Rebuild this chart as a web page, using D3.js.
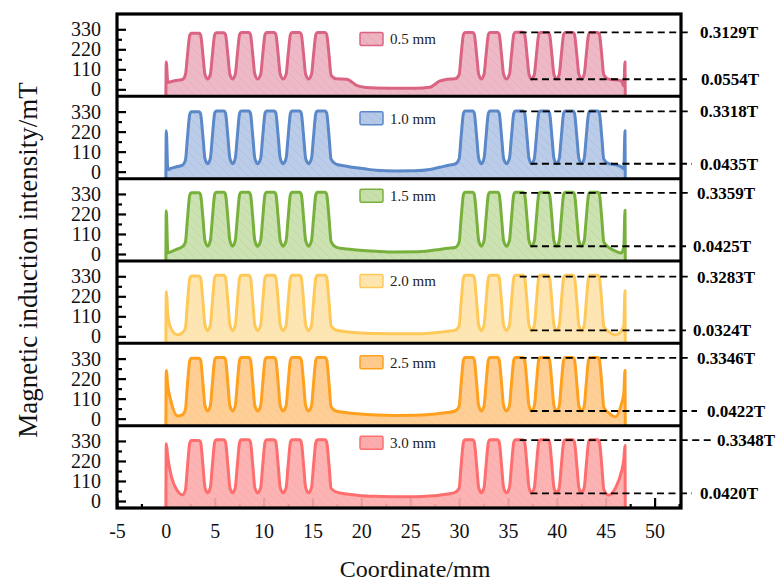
<!DOCTYPE html>
<html>
<head>
<meta charset="utf-8">
<script src="https://cdn.jsdelivr.net/npm/d3@7"></script>
<style>
  body { margin: 0; background: #fff; }
  svg text { font-family: "Liberation Serif", "Times New Roman", serif; }
</style>
</head>
<body>
<div id="chart"></div>
<script>
// coordinate grid (mm), shared by all six curves
var coords = [0.04, 0.2, 0.5, 1.2, 1.7,
  2.0, 2.2, 2.45, 2.6, 3.4, 3.55, 3.8, 4.0, 4.28,
  4.55, 4.75, 5.0, 5.15, 5.95, 6.1, 6.35, 6.55, 6.83,
  7.1, 7.3, 7.55, 7.7, 8.5, 8.65, 8.9, 9.1, 9.4,
  9.7, 9.9, 10.15, 10.3, 11.1, 11.25, 11.5, 11.7, 12.0,
  12.3, 12.5, 12.75, 12.9, 13.7, 13.85, 14.1, 14.3, 14.6,
  14.9, 15.1, 15.35, 15.5, 16.3, 16.45, 16.7, 16.9,
  17.4, 18.5, 19.5, 20.5, 21.5, 23.5, 25.5, 27, 28, 28.8, 29.6,
  30.0, 30.2, 30.45, 30.6, 31.4, 31.55, 31.8, 32.0, 32.28,
  32.55, 32.75, 33.0, 33.15, 33.95, 34.1, 34.35, 34.55, 34.85,
  35.15, 35.35, 35.6, 35.75, 36.55, 36.7, 36.95, 37.15, 37.43,
  37.7, 37.9, 38.15, 38.3, 39.1, 39.25, 39.5, 39.7, 39.98,
  40.25, 40.45, 40.7, 40.85, 41.65, 41.8, 42.05, 42.25, 42.53,
  42.8, 43.0, 43.25, 43.4, 44.2, 44.35, 44.6, 44.8,
  45.3, 46.0, 46.6, 46.85, 46.97];
var coordRange = [0, 47];

// magnetic induction (mT) for each gap
var b05 = [150, 38, 42, 50, 54,
  80, 183, 298, 308, 308, 300, 184, 82, 57,
  83, 185, 301, 311, 311, 301, 185, 83, 57,
  83, 185, 302, 312, 312, 302, 185, 83, 57,
  83, 185, 302, 312, 312, 302, 185, 83, 57,
  83, 185, 303, 313, 313, 303, 185, 83, 57,
  83, 185, 303, 313, 313, 303, 185, 78,
  58, 56, 22, 10, 7, 6, 6, 12, 45, 56, 58,
  80, 185, 303, 313, 313, 303, 185, 83, 57,
  83, 185, 303, 313, 313, 303, 185, 83, 57,
  83, 185, 304, 314, 314, 304, 185, 83, 57,
  83, 185, 303, 313, 313, 303, 185, 83, 57,
  83, 185, 303, 313, 313, 303, 185, 83, 57,
  83, 185, 302, 312, 312, 302, 185, 80,
  56, 52, 46, 18, 150];

var b10 = [225, 10, 18, 28, 36,
  62, 182, 317, 329, 329, 318, 187, 72, 44,
  73, 189, 322, 334, 334, 322, 189, 73, 44,
  73, 189, 322, 334, 334, 322, 189, 73, 44,
  73, 189, 322, 334, 334, 322, 189, 73, 44,
  73, 189, 322, 334, 334, 322, 189, 73, 44,
  73, 189, 322, 334, 334, 322, 189, 68,
  42, 30, 21, 14, 8, 4, 5, 12, 24, 34, 42,
  70, 189, 322, 334, 334, 322, 189, 73, 44,
  73, 189, 322, 334, 334, 322, 189, 73, 44,
  73, 189, 322, 334, 334, 322, 189, 73, 44,
  73, 189, 322, 334, 334, 322, 189, 73, 44,
  73, 189, 322, 334, 334, 322, 189, 73, 44,
  73, 189, 321, 333, 333, 321, 188, 68,
  44, 38, 26, 15, 225];

var b15 = [238, 6, 12, 28, 40,
  65, 188, 325, 337, 337, 326, 191, 73, 43,
  73, 192, 328, 340, 340, 328, 192, 73, 43,
  73, 192, 328, 340, 340, 328, 192, 73, 43,
  73, 192, 328, 340, 340, 328, 192, 73, 43,
  73, 192, 328, 340, 340, 328, 192, 73, 43,
  73, 192, 328, 340, 340, 328, 192, 68,
  38, 27, 22, 18, 15, 11, 12, 18, 25, 31, 36,
  65, 192, 328, 340, 340, 328, 192, 73, 43,
  73, 192, 328, 340, 340, 328, 192, 73, 43,
  73, 192, 328, 340, 340, 328, 192, 73, 43,
  73, 192, 328, 340, 340, 328, 192, 73, 43,
  73, 192, 328, 340, 340, 328, 192, 73, 43,
  73, 192, 328, 340, 340, 328, 192, 66,
  36, 16, 6, 40, 240];

var b20 = [245, 120, 45, 8, 20,
  45, 178, 319, 331, 331, 322, 183, 62, 32,
  62, 184, 323, 335, 335, 323, 184, 62, 32,
  62, 184, 323, 335, 335, 323, 184, 62, 32,
  62, 184, 323, 335, 335, 323, 184, 62, 32,
  62, 184, 323, 335, 335, 323, 184, 62, 32,
  62, 184, 323, 335, 335, 323, 184, 58,
  35, 25, 20, 17, 15, 14, 14, 17, 22, 28, 34,
  58, 184, 323, 335, 335, 323, 184, 62, 32,
  62, 184, 323, 335, 335, 323, 184, 62, 32,
  62, 184, 323, 335, 335, 323, 184, 62, 32,
  62, 184, 323, 335, 335, 323, 184, 62, 32,
  62, 184, 323, 335, 335, 323, 184, 62, 32,
  62, 184, 323, 335, 335, 323, 184, 55,
  26, 8, 30, 60, 250];

var b25 = [265, 180, 100, 14, 22,
  50, 183, 320, 332, 332, 323, 188, 71, 42,
  71, 189, 324, 336, 336, 324, 189, 71, 42,
  71, 189, 324, 336, 336, 324, 189, 71, 42,
  71, 189, 324, 336, 336, 324, 189, 71, 42,
  71, 189, 324, 336, 336, 324, 189, 71, 42,
  71, 189, 324, 336, 336, 324, 189, 66,
  42, 33, 27, 23, 20, 18, 19, 23, 28, 34, 42,
  68, 189, 324, 336, 336, 324, 189, 71, 42,
  71, 189, 324, 336, 336, 324, 189, 71, 42,
  71, 189, 324, 336, 336, 324, 189, 71, 42,
  71, 189, 324, 336, 336, 324, 189, 71, 42,
  71, 189, 324, 336, 336, 324, 189, 71, 42,
  71, 189, 324, 336, 336, 324, 189, 62,
  32, 10, 80, 140, 265];

var b30 = [315, 240, 150, 55, 34,
  60, 184, 320, 332, 332, 323, 190, 74, 45,
  74, 191, 324, 336, 336, 324, 191, 74, 45,
  74, 191, 324, 336, 336, 324, 191, 74, 45,
  74, 191, 324, 336, 336, 324, 191, 74, 45,
  74, 191, 324, 336, 336, 324, 191, 74, 45,
  74, 191, 324, 336, 336, 324, 191, 70,
  50, 38, 32, 28, 26, 24, 24, 27, 32, 38, 48,
  70, 191, 324, 336, 336, 324, 191, 74, 45,
  74, 191, 324, 336, 336, 324, 191, 74, 45,
  74, 191, 324, 336, 336, 324, 191, 74, 45,
  74, 191, 324, 336, 336, 324, 191, 74, 45,
  74, 191, 324, 336, 336, 324, 191, 74, 45,
  74, 191, 324, 336, 336, 324, 191, 64,
  32, 72, 160, 230, 305];

var gapLabels = ["0.5 mm", "1.0 mm", "1.5 mm", "2.0 mm", "2.5 mm", "3.0 mm"];
var peakT = [0.3129, 0.3318, 0.3359, 0.3283, 0.3346, 0.3348];
var valleyT = [0.0554, 0.0435, 0.0425, 0.0324, 0.0422, 0.0420];

var yTicks = [0, 110, 220, 330];
var yMinorTicks = [55, 165, 275];
var xTicks = [-5, 0, 5, 10, 15, 20, 25, 30, 35, 40, 45, 50];
var xMinorTicks = [-2.5, 2.5, 7.5, 12.5, 17.5, 22.5, 27.5, 32.5, 37.5, 42.5, 47.5, 52.5];

var series = [b05, b10, b15, b20, b25, b30];

// styles
var lineColors = ["#da6482", "#5b88c9", "#78b03c", "#ffc95a", "#ffa01e", "#ff6e6e"];
var fillColors = ["#ecb3c1", "#b5c8e6", "#c8dfab", "#fee4ae", "#fdcb8e", "#fbadad"];
var legendDy = [25, 22, 17, 20, 19, 17];
var hiLineEnd = [690, 690, 690, 690, 690, 713], hiLabelX = [700, 700, 697, 697, 697, 717];
var loLineEnd = [690, 692, 686, 686, 697, 692], loLabelX = [701, 700, 693, 693, 707, 700];

var width = 777, height = 582;
var plot = {left: 117, right: 681, top: 14, bottom: 508};
var panelH = (plot.bottom - plot.top) / 6;
var yDomain = [-38.5, 414];
var plain = function(d) { return String(d); };

var svg = d3.select("#chart")
  .append("svg")
    .attr("width", width)
    .attr("height", height);

var defs = svg.append("defs");
fillColors.forEach(function(c, i) {
  var p = defs.append("pattern")
    .attr("id", "hatch" + i)
    .attr("patternUnits", "userSpaceOnUse")
    .attr("width", 9).attr("height", 9);
  p.append("rect").attr("width", 9).attr("height", 9).attr("fill", c);
  p.append("path")
    .attr("d", "M-2,7 l4,4 M0,0 l9,9 M7,-2 l4,4")
    .attr("stroke", lineColors[i])
    .attr("stroke-opacity", 0.22)
    .attr("stroke-width", 0.8);
});

var x = d3.scaleLinear().domain([-5, 52.7]).range([plot.left, plot.right]);

// bottom axis ticks (drawn first so the fill sits over them)
var xAxisG = svg.append("g")
  .attr("transform", "translate(0," + plot.bottom + ")")
  .call(d3.axisBottom(x).tickValues(xTicks).tickSize(-10).tickPadding(16).tickFormat(plain));
xAxisG.attr("font-size", 20);
xAxisG.select(".domain").remove();
xAxisG.selectAll("line").attr("stroke-width", 2.2);
xAxisG.selectAll("text").attr("fill", "#111");

var xMinorG = svg.append("g")
  .attr("transform", "translate(0," + plot.bottom + ")")
  .call(d3.axisBottom(x).tickValues(xMinorTicks).tickSize(-4).tickFormat(""));
xMinorG.select(".domain").remove();
xMinorG.selectAll("line").attr("stroke-width", 2.2);

series.forEach(function(vals, i) {
  var top = plot.top + i * panelH;
  var y = d3.scaleLinear().domain(yDomain).range([top + panelH, top]);

  var pts = coords.map(function(c, j) { return [c, vals[j]]; });
  var full = [[coordRange[0], yDomain[0]]].concat(pts, [[coordRange[1], yDomain[0]]]);

  var area = d3.area()
    .x(function(d) { return x(d[0]); })
    .y0(y(yDomain[0]))
    .y1(function(d) { return y(d[1]); })
    .curve(d3.curveMonotoneX);
  var line = d3.line()
    .x(function(d) { return x(d[0]); })
    .y(function(d) { return y(d[1]); })
    .curve(d3.curveMonotoneX);

  svg.append("path")
    .datum(full)
    .attr("d", area)
    .attr("fill", "url(#hatch" + i + ")")
    .attr("fill-opacity", 0.92);

  svg.append("path")
    .datum(full)
    .attr("d", line)
    .attr("fill", "none")
    .attr("stroke", lineColors[i])
    .attr("stroke-width", 3)
    .attr("stroke-linejoin", "round");

  // left ticks, pointing inward
  var ya = svg.append("g")
    .attr("transform", "translate(" + plot.left + ",0)")
    .call(d3.axisLeft(y).tickValues(yTicks).tickSize(-9).tickPadding(16).tickFormat(plain));
  ya.attr("font-size", 20);
  ya.select(".domain").remove();
  ya.selectAll("line").attr("stroke-width", 2.2);
  ya.selectAll("text").attr("fill", "#111");

  var ym = svg.append("g")
    .attr("transform", "translate(" + plot.left + ",0)")
    .call(d3.axisLeft(y).tickValues(yMinorTicks).tickSize(-5).tickFormat(""));
  ym.select(".domain").remove();
  ym.selectAll("line").attr("stroke-width", 2.2);

  // legend swatch
  var ly = top + legendDy[i];
  svg.append("rect")
    .attr("x", 360).attr("y", ly - 6.5)
    .attr("width", 23).attr("height", 13)
    .attr("rx", 1.5)
    .attr("fill", "url(#hatch" + i + ")")
    .attr("stroke", lineColors[i])
    .attr("stroke-width", 1.5);
  svg.append("text")
    .attr("x", 390).attr("y", ly)
    .attr("dy", "0.35em")
    .attr("font-size", 15)
    .attr("fill", "#222")
    .text(gapLabels[i]);

  // dashed max / min markers
  var hy = y(peakT[i] * 1000), lyv = y(valleyT[i] * 1000);
  svg.append("line")
    .attr("x1", x(36.2)).attr("x2", hiLineEnd[i])
    .attr("y1", hy).attr("y2", hy)
    .attr("stroke", "#000").attr("stroke-width", 1.8)
    .attr("stroke-dasharray", "7,4.5");
  svg.append("line")
    .attr("x1", x(37.3)).attr("x2", loLineEnd[i])
    .attr("y1", lyv).attr("y2", lyv)
    .attr("stroke", "#000").attr("stroke-width", 1.8)
    .attr("stroke-dasharray", "7,4.5");
  svg.append("text")
    .attr("x", hiLabelX[i]).attr("y", hy)
    .attr("dy", "0.35em")
    .attr("font-size", 17).attr("font-weight", "bold")
    .text(peakT[i].toFixed(4) + "T");
  svg.append("text")
    .attr("x", loLabelX[i]).attr("y", lyv)
    .attr("dy", "0.35em")
    .attr("font-size", 17).attr("font-weight", "bold")
    .text(valleyT[i].toFixed(4) + "T");

  // separator between panels
  if (i > 0) {
    svg.append("line")
      .attr("x1", plot.left).attr("x2", plot.right)
      .attr("y1", top).attr("y2", top)
      .attr("stroke", "#000").attr("stroke-width", 3);
  }
});

// frame
svg.append("rect")
  .attr("x", plot.left).attr("y", plot.top)
  .attr("width", plot.right - plot.left)
  .attr("height", plot.bottom - plot.top)
  .attr("fill", "none")
  .attr("stroke", "#000")
  .attr("stroke-width", 3.2);

// axis titles
svg.append("text")
  .attr("x", 415).attr("y", 577)
  .attr("text-anchor", "middle")
  .attr("font-size", 24)
  .attr("fill", "#111")
  .text("Coordinate/mm");

svg.append("text")
  .attr("transform", "translate(37,260) rotate(-90)")
  .attr("text-anchor", "middle")
  .attr("font-size", 27)
  .attr("fill", "#111")
  .text("Magnetic induction intensity/mT");
</script>
</body>
</html>
